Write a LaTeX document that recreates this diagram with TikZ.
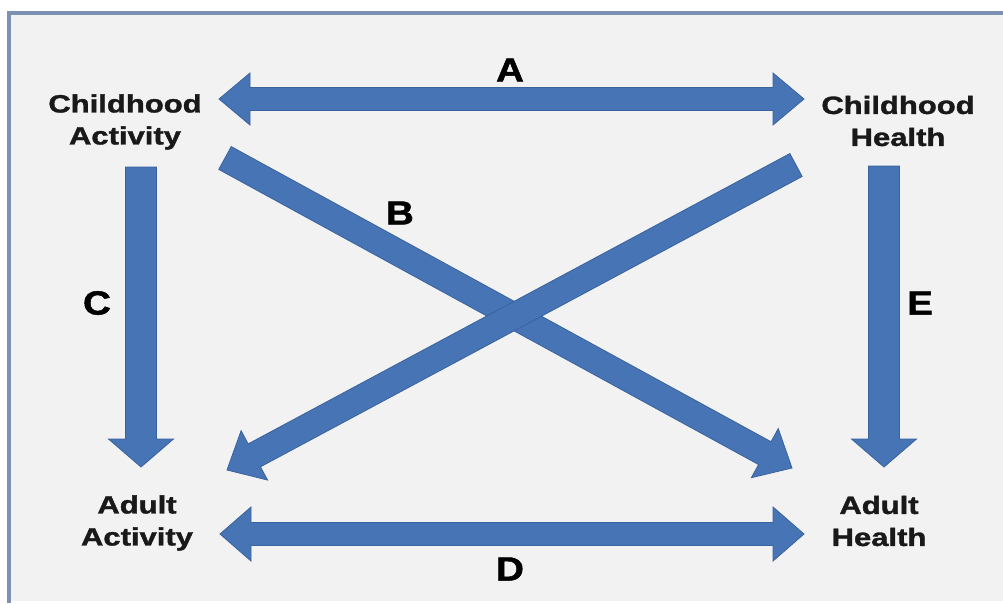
\documentclass[tikz,border=0pt]{standalone}
\usepackage{fontspec}
\setmainfont{Liberation Sans}
\newfontfamily\heavy[BoldFeatures={FakeBold=1.3}]{Liberation Sans}
\usetikzlibrary{calc}
\definecolor{arrowblue}{RGB}{70,116,180}
\definecolor{arrowedge}{RGB}{58,98,158}
\definecolor{framegray}{RGB}{125,145,178}
\definecolor{bggray}{RGB}{242,242,242}
\definecolor{textblack}{RGB}{25,25,25}
\newcommand\wide[1]{\scalebox{1.24}[1]{#1}}
\newcommand\wideL[1]{\scalebox{1.15}[1]{#1}}
% single block arrow: tail, tip, half shaft, half head, head length
\newcommand\barrow[5]{%
  \coordinate (hb) at ($(#2)!#5!(#1)$);
  \filldraw[blockarrow] ($(#1)!#3!90:(#2)$) -- ($(hb)!#3!90:(#2)$) -- ($(hb)!#4!90:(#2)$) -- (#2)
    -- ($(hb)!#4!-90:(#2)$) -- ($(hb)!#3!-90:(#2)$) -- ($(#1)!#3!-90:(#2)$) -- cycle;
}
% double block arrow: end a, end b, half shaft, half head, head length
\newcommand\dbarrow[5]{%
  \coordinate (ha) at ($(#1)!#5!(#2)$);
  \coordinate (hb) at ($(#2)!#5!(#1)$);
  \filldraw[blockarrow] (#1) -- ($(ha)!#4!90:(#2)$) -- ($(ha)!#3!90:(#2)$) -- ($(hb)!#3!-90:(#1)$)
    -- ($(hb)!#4!-90:(#1)$) -- (#2) -- ($(hb)!#4!90:(#1)$) -- ($(hb)!#3!90:(#1)$)
    -- ($(ha)!#3!-90:(#2)$) -- ($(ha)!#4!-90:(#2)$) -- cycle;
}
\begin{document}
\begin{tikzpicture}[x=1pt,y=-1pt,
  lbl/.style={font=\heavy\bfseries\fontsize{25}{32}\selectfont, align=center, inner sep=0pt, text=textblack},
  letter/.style={font=\heavy\bfseries\fontsize{33.5}{40}\selectfont, inner sep=0pt, text=black},
  blockarrow/.style={fill=arrowblue, draw=arrowedge, line width=0.8pt, line join=miter}]
\useasboundingbox (0,0) rectangle (1003,603);
\fill[white] (0,0) rectangle (1003,603);
\fill[bggray] (9,13) rectangle (1003,601);
\draw[framegray, line width=3.5pt] (9,603) -- (9,13) -- (1003,13);

% text nodes
\node[lbl] (ca) at (125,122) {\wide{Childhood}\\\wide{Activity}};
\node[lbl] (ch) at (898,121) {\wide{Childhood}\\\wide{Health}};
\node[lbl] (aa) at (137,523) {\wide{Adult}\\\wide{Activity}};
\node[lbl] (ah) at (879,521) {\wide{Adult}\\\wide{Health}};

% arrow end points
\coordinate (A-l) at (219,99);
\coordinate (A-r) at (804,99);
\coordinate (D-l) at (220,534);
\coordinate (D-r) at (804,534);
\coordinate (C-t) at (141,167);
\coordinate (C-h) at (141,467);
\coordinate (E-t) at (884,166);
\coordinate (E-h) at (884,467);
\coordinate (B-t) at (225,158);
\coordinate (B-h) at (792,468);
\coordinate (X-t) at (796,165);
\coordinate (X-h) at (227,470);

% arrows
\dbarrow{A-l}{A-r}{11.5pt}{26pt}{31pt}
\dbarrow{D-l}{D-r}{11.5pt}{27pt}{31pt}
\barrow{C-t}{C-h}{15.5pt}{32.5pt}{28pt}
\barrow{E-t}{E-h}{15.5pt}{32.5pt}{28pt}
\barrow{B-t}{B-h}{13pt}{28pt}{31pt}
\barrow{X-t}{X-h}{13pt}{28pt}{31pt}

% letters
\node[letter] (lA) at (510,70) {\wideL{A}};
\node[letter] (lB) at (400,213) {\wideL{B}};
\node[letter] (lC) at (97,303) {\wideL{C}};
\node[letter] (lD) at (510,569) {\wideL{D}};
\node[letter] (lE) at (920,303) {\wideL{E}};
\end{tikzpicture}
\end{document}
